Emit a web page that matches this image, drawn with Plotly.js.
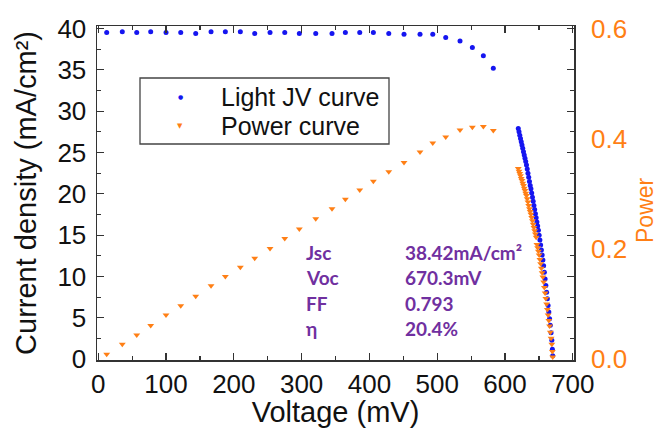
<!DOCTYPE html>
<html><head><meta charset="utf-8">
<script src="https://cdn.plot.ly/plotly-3.0.1.min.js"></script>
<style>html,body{margin:0;padding:0;background:#fff}#chart{width:658px;height:428px}</style>
</head><body><div id="chart"></div>
<script>
// Voltage (mV) of each measured point
const voltage = [12.5, 35.5, 56.8, 77.4, 100, 121.7, 143.8, 166.4, 187.5, 209.6, 230.8, 253.4, 275.1, 296.6,
  320.8, 344.8, 364.5, 385.7, 405.8, 428.5, 451, 474.6, 493.4, 512.5, 533.6, 551.8, 568, 582.7,
  619.5, 620.6, 621.7, 622.8, 623.9, 625.0, 626.1, 627.2, 628.3, 629.4, 630.5, 631.6, 632.7, 633.8,
  634.9, 636.0, 637.1, 638.2, 639.3, 640.4, 641.5, 642.6, 643.7, 644.8, 645.9, 647.0, 648.1, 649.2,
  650.3, 651.4, 652.5, 653.6, 654.7, 655.8, 656.9, 658.0, 659.1, 660.2, 661.3, 662.4, 663.5, 664.6,
  665.7, 666.8, 667.9, 669.0, 669.8, 670.3];
// Current density (mA/cm2)
const currentDensity = [39.5, 39.6, 39.5, 39.6, 39.5, 39.5, 39.4, 39.6, 39.6, 39.6, 39.4, 39.5, 39.5, 39.4,
  39.4, 39.4, 39.5, 39.5, 39.5, 39.4, 39.3, 39.3, 39.3, 38.9, 38.5, 37.7, 36.7, 35.2,
  27.9, 27.5, 27.1, 26.7, 26.3, 25.9, 25.5, 25.1, 24.7, 24.3, 23.9, 23.5, 23.0, 22.5,
  22.0, 21.5, 21.0, 20.6, 20.1, 19.6, 19.1, 18.6, 18.1, 17.6, 17.1, 16.6, 16.1, 15.6,
  15.0, 14.4, 13.8, 13.2, 12.6, 12.0, 11.3, 10.5, 9.7, 8.9, 8.1, 7.3, 6.5, 5.7,
  4.9, 4.1, 3.2, 2.3, 1.2, 0.4];
// Power
const power = [0.009, 0.027, 0.044, 0.061, 0.080, 0.097, 0.114, 0.133, 0.150, 0.167, 0.183, 0.201, 0.219, 0.236,
  0.255, 0.273, 0.290, 0.307, 0.323, 0.340, 0.357, 0.376, 0.392, 0.403, 0.416, 0.421, 0.422, 0.415,
  0.346, 0.341, 0.337, 0.333, 0.328, 0.324, 0.319, 0.315, 0.310, 0.306, 0.301, 0.297, 0.291, 0.285,
  0.279, 0.273, 0.268, 0.263, 0.257, 0.251, 0.245, 0.239, 0.233, 0.227, 0.221, 0.208, 0.202, 0.196,
  0.189, 0.181, 0.173, 0.165, 0.157, 0.149, 0.140, 0.130, 0.120, 0.110, 0.100, 0.090, 0.080, 0.070,
  0.060, 0.049, 0.038, 0.027, 0.014, 0.004];

const xTicks = [0, 100, 200, 300, 400, 500, 600, 700];
const yTicks = [0, 5, 10, 15, 20, 25, 30, 35, 40];
const powerTicks = [0, 0.2, 0.4, 0.6];
const seriesNames = ['Light JV curve', 'Power curve'];
const statLabels = ['Jsc', 'Voc', 'FF', 'η'];
const statValues = ['38.42mA/cm²', '670.3mV', '0.793', '20.4%'];

const BLUE = '#1515f0', ORANGE = '#ff7f15', PURPLE = '#7030a0', AX = '#333333';
const L = 97, R = 574, T = 26, B = 360;
const px = x => (x - L) / (R - L);
const py = y => (B - y) / (B - T);

const traces = [
  {x: voltage, y: currentDensity, name: seriesNames[0], type: 'scatter', mode: 'markers',
   marker: {color: BLUE, size: 5, symbol: 'circle'}, yaxis: 'y', showlegend: false},
  {x: voltage, y: power, name: seriesNames[1], type: 'scatter', mode: 'markers',
   marker: {color: ORANGE, size: 6, symbol: 'triangle-down'}, yaxis: 'y2', showlegend: false}
];

const annotations = [];
const rowY = [252, 277.5, 303, 328.5];
statLabels.forEach((t, i) => {
  annotations.push({xref: 'paper', yref: 'paper', x: px(304), y: py(rowY[i]), xanchor: 'left', yanchor: 'middle',
    text: '<b>' + t + '</b>', showarrow: false, font: {family: 'Lato', size: 19, color: PURPLE}});
  annotations.push({xref: 'paper', yref: 'paper', x: px(403), y: py(rowY[i]), xanchor: 'left', yanchor: 'middle',
    text: '<b>' + statValues[i] + '</b>', showarrow: false, font: {family: 'Lato', size: 19, color: PURPLE}});
});
// legend (drawn manually to match the box geometry)
const legRows = [97, 126];
const legSym = ['●', '▼'];
const legCol = [BLUE, ORANGE];
seriesNames.forEach((n, i) => {
  annotations.push({xref: 'paper', yref: 'paper', x: px(219), y: py(legRows[i]), xanchor: 'left', yanchor: 'middle',
    text: n, showarrow: false, font: {family: 'Liberation Sans, Arial', size: 25, color: '#111'}});
  annotations.push({xref: 'paper', yref: 'paper', x: px(180), y: py(legRows[i]), xanchor: 'center', yanchor: 'middle',
    text: legSym[i], showarrow: false, font: {family: 'DejaVu Sans', size: i === 0 ? 6 : 7, color: legCol[i]}});
});
// right axis title, placed as in the reference (slightly below centre)
annotations.push({xref: 'paper', yref: 'paper', x: px(645), y: py(210), xanchor: 'center', yanchor: 'middle',
  textangle: -90, text: 'Power', showarrow: false, font: {family: 'Liberation Sans, Arial', size: 23, color: ORANGE}});

const layout = {
  width: 658, height: 428,
  margin: {l: L, r: 658 - R, t: T, b: 428 - B, pad: 0},
  paper_bgcolor: '#fff', plot_bgcolor: '#fff',
  font: {family: 'Liberation Sans, Arial', color: '#111'},
  showlegend: false,
  xaxis: {
    range: [-1.8, 701.7], tickvals: xTicks, ticks: 'inside', ticklen: 7, tickwidth: 1.3, tickcolor: AX,
    minor: {dtick: 50, tick0: 0, ticks: 'inside', ticklen: 4, tickwidth: 1.2, tickcolor: AX},
    showline: true, linecolor: AX, linewidth: 1.5, mirror: 'ticks', showgrid: false, zeroline: false,
    tickfont: {size: 26, color: '#111'}, automargin: false,
    title: {text: 'Voltage (mV)', font: {size: 29, color: '#111'}, standoff: 6}
  },
  yaxis: {
    range: [-0.1, 40.3], tickvals: yTicks, ticks: 'inside', ticklen: 7, tickwidth: 1.3, tickcolor: AX,
    minor: {dtick: 2.5, tick0: 0, ticks: 'inside', ticklen: 4, tickwidth: 1.2, tickcolor: AX},
    showline: true, linecolor: AX, linewidth: 1.5, mirror: 'ticks', showgrid: false, zeroline: false,
    tickfont: {size: 26, color: '#111'}, automargin: false, ticklabelstandoff: 4,
    title: {text: 'Current density (mA/cm²)', font: {size: 29, color: '#111'}, standoff: 12}
  },
  yaxis2: {
    overlaying: 'y', side: 'right', range: [-0.0015, 0.6045], tickvals: powerTicks, tickformat: '.1f',
    ticks: '', showline: false, showgrid: false, zeroline: false, automargin: false,
    tickfont: {size: 26, color: ORANGE}, ticklabelstandoff: 16
  },
  shapes: [{type: 'rect', xref: 'paper', yref: 'paper', x0: px(140), x1: px(389), y0: py(78), y1: py(144),
    line: {color: '#444', width: 1.3}, fillcolor: 'rgba(0,0,0,0)'}],
  annotations: annotations
};

Plotly.newPlot('chart', traces, layout, {staticPlot: true, displayModeBar: false});
</script></body></html>
